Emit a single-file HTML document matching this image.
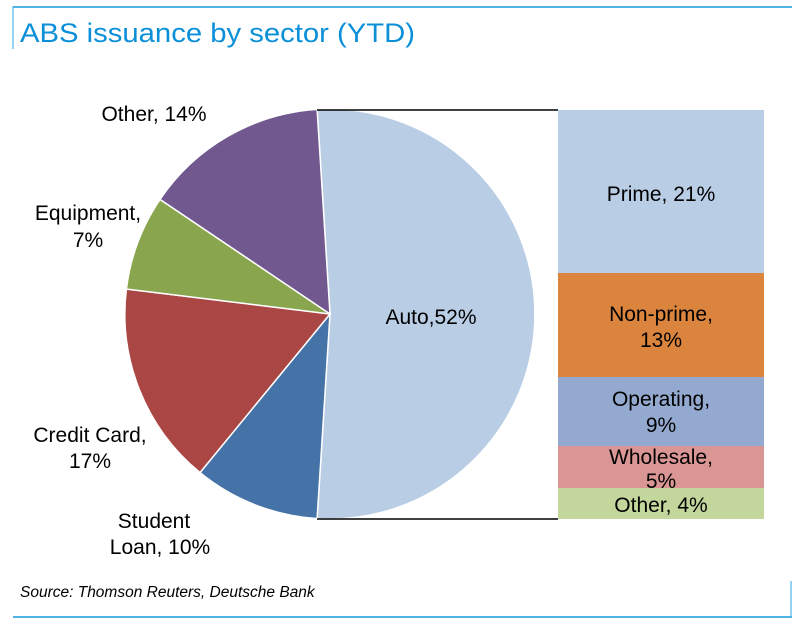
<!DOCTYPE html>
<html><head><meta charset="utf-8"><style>
body{margin:0;background:#fff;width:803px;height:623px;overflow:hidden;font-family:"Liberation Sans",sans-serif}
</style></head><body>
<svg width="803" height="623" xmlns="http://www.w3.org/2000/svg" font-family="Liberation Sans, sans-serif">
<line x1="13" y1="7" x2="792" y2="7" stroke="#4fb3e8" stroke-width="2"/>
<line x1="13" y1="6" x2="13" y2="49" stroke="#4fb3e8" stroke-width="1.2"/>
<text x="20" y="42" font-size="27" fill="#0a8fd8" textLength="395" lengthAdjust="spacingAndGlyphs">ABS issuance by sector (YTD)</text>
<g stroke="#fff" stroke-width="1.5">
<path d="M330 314 L317.1 109.4 A205 205 0 1 1 317.1 518.6 Z" fill="#b9cde5"/>
<path d="M330 314 L317.1 518.6 A205 205 0 0 1 200 472.6 Z" fill="#4572a7"/>
<path d="M330 314 L200 472.6 A205 205 0 0 1 126.4 289 Z" fill="#aa4643"/>
<path d="M330 314 L126.4 289 A205 205 0 0 1 160 199.4 Z" fill="#89a54e"/>
<path d="M330 314 L160 199.4 A205 205 0 0 1 317.1 109.4 Z" fill="#71588f"/>
</g>
<rect x="558" y="110" width="206" height="163" fill="#b9cde5"/>
<rect x="558" y="273" width="206" height="104" fill="#db843d"/>
<rect x="558" y="377" width="206" height="69" fill="#93a9cf"/>
<rect x="558" y="446" width="206" height="42" fill="#d99694"/>
<rect x="558" y="488" width="206" height="31" fill="#c3d69b"/>
<line x1="317" y1="110" x2="558" y2="110" stroke="#000" stroke-width="1.5"/>
<line x1="317" y1="519" x2="558" y2="519" stroke="#000" stroke-width="1.5"/>
<g font-size="21" fill="#000" text-anchor="middle">
<text x="431" y="324">Auto,52%</text>
<text x="661" y="201">Prime, 21%</text>
<text x="661" y="321">Non-prime,</text><text x="661" y="347">13%</text>
<text x="661" y="406">Operating,</text><text x="661" y="432">9%</text>
<text x="661" y="464">Wholesale,</text><text x="661" y="488">5%</text>
<text x="661" y="512">Other, 4%</text>
<text x="154" y="121">Other, 14%</text>
<text x="88" y="220">Equipment,</text><text x="88" y="247">7%</text>
<text x="90" y="442">Credit Card,</text><text x="90" y="468">17%</text>
<text x="154" y="528">Student</text><text x="160" y="554">Loan, 10%</text>
</g>
<text x="20" y="597" font-size="15.5" font-style="italic" fill="#000">Source: Thomson Reuters, Deutsche Bank</text>
<line x1="13" y1="617" x2="792" y2="617" stroke="#4fb3e8" stroke-width="2"/>
<line x1="791" y1="581" x2="791" y2="618" stroke="#4fb3e8" stroke-width="1.2"/>
</svg>
</body></html>
